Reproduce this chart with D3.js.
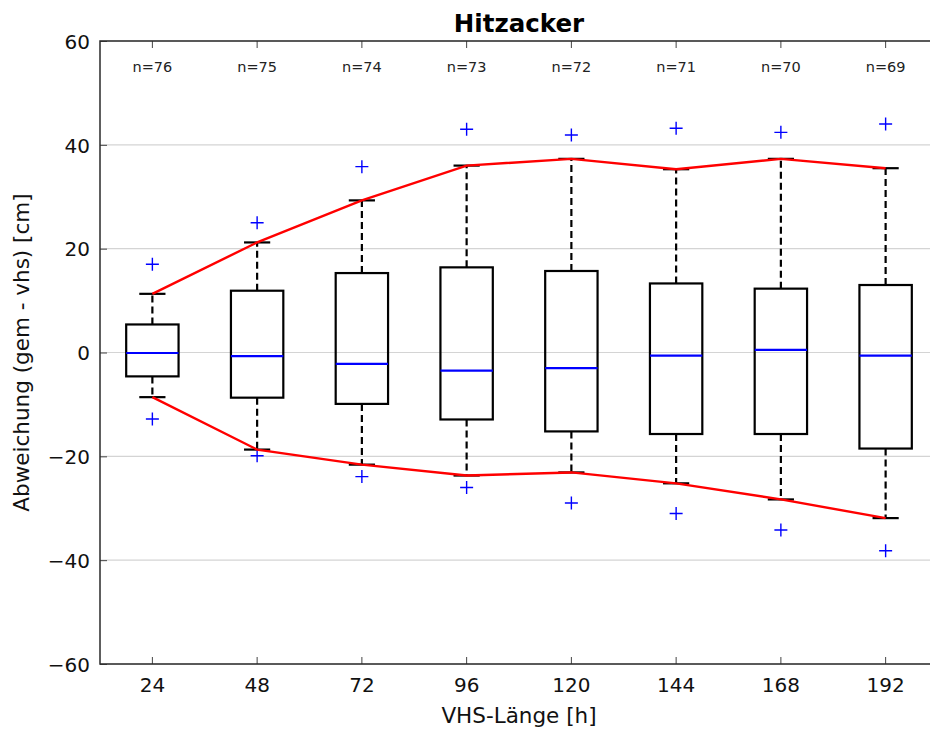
<!DOCTYPE html>
<html>
<head>
<meta charset="utf-8">
<script src="https://cdn.jsdelivr.net/npm/d3@7"></script>
<style>
  body { margin: 0; background: #fff; }
  svg { display: block; font-family: 'DejaVu Sans', sans-serif; }
</style>
</head>
<body>
<div id="chart"></div>
<script>
// VHS lengths (x categories)
const categories = [24, 48, 72, 96, 120, 144, 168, 192];
// sample counts per box
const counts = [76, 75, 74, 73, 72, 71, 70, 69];
// box statistics (cm)
const q1 = [-4.6, -8.7, -9.9, -12.9, -15.2, -15.7, -15.7, -18.5];
const medians = [-0.1, -0.7, -2.2, -3.5, -3.0, -0.6, 0.5, -0.6];
const q3 = [5.4, 11.9, 15.3, 16.4, 15.7, 13.3, 12.3, 13.0];
const whiskerLow = [-8.6, -18.7, -21.6, -23.7, -23.1, -25.2, -28.3, -31.9];
const whiskerHigh = [11.3, 21.2, 29.3, 36.0, 37.3, 35.3, 37.3, 35.5];
// outliers (fliers)
const flierHigh = [17.0, 25.0, 35.8, 43.0, 41.9, 43.2, 42.4, 44.0];
const flierLow = [-12.8, -19.9, -23.9, -26.0, -29.0, -31.0, -34.2, -38.2];
const yTicks = [-60, -40, -20, 0, 20, 40, 60];

const margin = { top: 41, right: 0, bottom: 69, left: 100 };
const width = 838;
const height = 623;

const data = categories.map((c, i) => ({
  c, n: counts[i], q1: q1[i], med: medians[i], q3: q3[i],
  lo: whiskerLow[i], hi: whiskerHigh[i], fh: flierHigh[i], fl: flierLow[i]
}));

const svg = d3.select('#chart')
  .append('svg')
  .attr('width', 930)
  .attr('height', 733);

const g = svg.append('g')
  .attr('transform', `translate(${margin.left}, ${margin.top})`);

// scales
const xScale = d3.scaleBand().domain(categories).range([0, width]).padding(0);
const yScale = d3.scaleLinear().domain([-60, 60]).range([height, 0]);
const bw = xScale.bandwidth();
const cx = (d) => xScale(d) + bw / 2;
const boxW = bw * 0.5;
const capW = bw * 0.25;

// grid
g.append('g')
  .selectAll('line')
  .data(yTicks)
  .join('line')
  .attr('x1', 0)
  .attr('x2', width)
  .attr('y1', (d) => yScale(d))
  .attr('y2', (d) => yScale(d))
  .attr('stroke', '#d4d4d4')
  .attr('stroke-width', 1.2);

// axes
const xAxis = d3.axisBottom(xScale).tickSizeInner(-7).tickSizeOuter(0).tickPadding(14);
const xAxisTop = d3.axisTop(xScale).tickSizeInner(-7).tickSizeOuter(0).tickFormat('');
const yAxis = d3.axisLeft(yScale).tickValues(yTicks).tickSizeInner(-7).tickSizeOuter(0).tickPadding(10)
  .tickFormat((d) => (d < 0 ? '\u2212' + Math.abs(d) : d));

const styleAxis = (sel) => {
  sel.select('.domain').remove();
  sel.selectAll('.tick line').attr('stroke', '#444').attr('stroke-width', 1);
  sel.selectAll('.tick text')
    .attr('fill', '#111')
    .style('font-size', '20px')
    .style('font-family', 'DejaVu Sans, sans-serif');
};

g.append('g').attr('class', 'x axis')
  .attr('transform', `translate(0, ${height})`)
  .call(xAxis).call(styleAxis);
g.append('g').attr('class', 'x axis top').call(xAxisTop).call(styleAxis);
g.append('g').attr('class', 'y axis').call(yAxis).call(styleAxis);
g.select('.y.axis').selectAll('.tick text').attr('dy', '0.36em');

// whiskers (dashed)
const whisk = g.append('g');
whisk.selectAll('.wh')
  .data(data)
  .join('line')
  .attr('x1', (d) => cx(d.c)).attr('x2', (d) => cx(d.c))
  .attr('y1', (d) => yScale(d.q3)).attr('y2', (d) => yScale(d.hi))
  .attr('stroke', '#000').attr('stroke-width', 2.2).attr('stroke-dasharray', '7,4');
whisk.selectAll('.wl')
  .data(data)
  .join('line')
  .attr('class', 'wl')
  .attr('x1', (d) => cx(d.c)).attr('x2', (d) => cx(d.c))
  .attr('y1', (d) => yScale(d.q1)).attr('y2', (d) => yScale(d.lo))
  .attr('stroke', '#000').attr('stroke-width', 2.2).attr('stroke-dasharray', '7,4');

// boxes
g.append('g')
  .selectAll('rect')
  .data(data)
  .join('rect')
  .attr('x', (d) => cx(d.c) - boxW / 2)
  .attr('width', boxW)
  .attr('y', (d) => yScale(d.q3))
  .attr('height', (d) => yScale(d.q1) - yScale(d.q3))
  .attr('fill', 'none')
  .attr('stroke', '#000')
  .attr('stroke-width', 2.2);

// caps
const caps = g.append('g');
['hi', 'lo'].forEach((k) => {
  caps.selectAll(`.cap-${k}`)
    .data(data)
    .join('line')
    .attr('class', `cap-${k}`)
    .attr('x1', (d) => cx(d.c) - capW / 2).attr('x2', (d) => cx(d.c) + capW / 2)
    .attr('y1', (d) => yScale(d[k])).attr('y2', (d) => yScale(d[k]))
    .attr('stroke', '#000').attr('stroke-width', 2.2);
});

// medians
g.append('g')
  .selectAll('line')
  .data(data)
  .join('line')
  .attr('x1', (d) => cx(d.c) - boxW / 2).attr('x2', (d) => cx(d.c) + boxW / 2)
  .attr('y1', (d) => yScale(d.med)).attr('y2', (d) => yScale(d.med))
  .attr('stroke', '#0000ff').attr('stroke-width', 2.2);

// fliers as '+'
const plus = d3.symbol().type(d3.symbolCross);
const fliers = g.append('g');
['fh', 'fl'].forEach((k) => {
  fliers.selectAll(`.f-${k}`)
    .data(data)
    .join('path')
    .attr('class', `f-${k}`)
    .attr('transform', (d) => `translate(${cx(d.c)}, ${yScale(d[k])})`)
    .attr('d', 'M-6.5,0H6.5M0,-6.5V6.5')
    .attr('stroke', '#0000ff')
    .attr('stroke-width', 1.4)
    .attr('fill', 'none');
});

// red envelope lines through whisker ends
const envLine = d3.line().x((d) => cx(d.c));
g.append('path')
  .datum(data)
  .attr('d', envLine.y((d) => yScale(d.hi)))
  .attr('fill', 'none').attr('stroke', '#ff0000').attr('stroke-width', 2.4);
g.append('path')
  .datum(data)
  .attr('d', envLine.y((d) => yScale(d.lo)))
  .attr('fill', 'none').attr('stroke', '#ff0000').attr('stroke-width', 2.4);

// n= labels
g.append('g')
  .selectAll('text')
  .data(data)
  .join('text')
  .attr('x', (d) => cx(d.c))
  .attr('y', 31)
  .attr('text-anchor', 'middle')
  .attr('fill', '#222')
  .style('font-size', '14.5px')
  .text((d) => `n=${d.n}`);

// frame
g.append('rect')
  .attr('x', 0).attr('y', 0)
  .attr('width', width).attr('height', height)
  .attr('fill', 'none')
  .attr('stroke', '#2a2a2a')
  .attr('stroke-width', 1.5);

// title
svg.append('text')
  .attr('x', margin.left + width / 2)
  .attr('y', 31.5)
  .attr('text-anchor', 'middle')
  .style('font-size', '24.5px')
  .style('font-weight', 'bold')
  .attr('fill', '#000')
  .text('Hitzacker');

// axis labels
svg.append('text')
  .attr('x', margin.left + width / 2)
  .attr('y', 723)
  .attr('text-anchor', 'middle')
  .style('font-size', '21.5px')
  .attr('fill', '#111')
  .text('VHS-Länge [h]');

svg.append('text')
  .attr('transform', `translate(29, ${margin.top + height / 2}) rotate(-90)`)
  .attr('text-anchor', 'middle')
  .style('font-size', '21.5px')
  .attr('fill', '#111')
  .text('Abweichung (gem - vhs) [cm]');
</script>
</body>
</html>
